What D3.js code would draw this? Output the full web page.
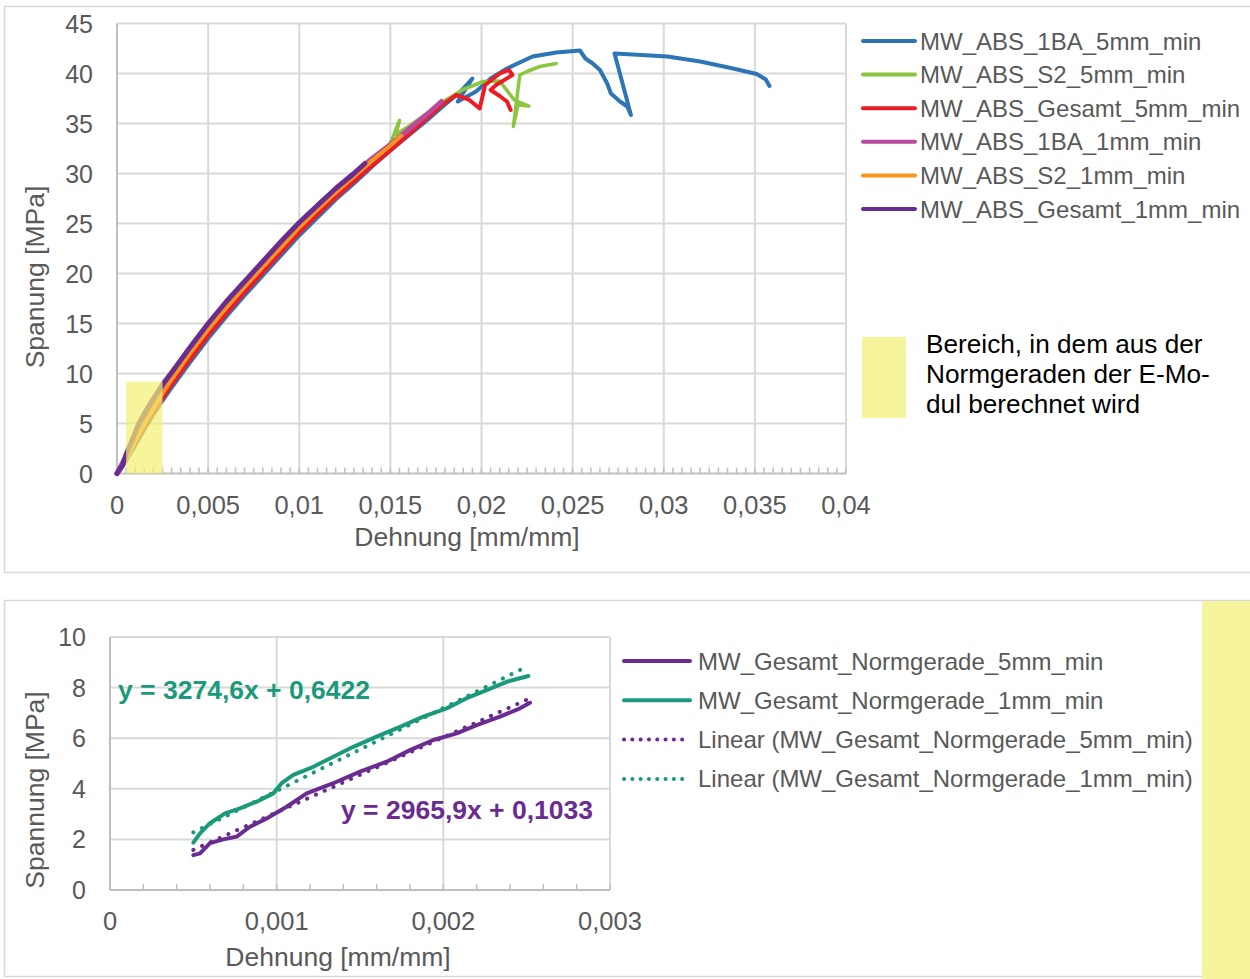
<!DOCTYPE html>
<html>
<head>
<meta charset="utf-8">
<script src="https://cdn.jsdelivr.net/npm/d3@7"></script>
<style>
  body { margin: 0; background: #fff; }
  svg { display: block; }
  text { font-family: "Liberation Sans", Arial, Helvetica, sans-serif; }
</style>
</head>
<body>
<svg id="chart" width="1250" height="979"></svg>
<script>
// ---------- Zugversuch ABS: Spannung-Dehnung (Mittelwerte) ----------
const seriesNames = [
  "MW_ABS_1BA_5mm_min", "MW_ABS_S2_5mm_min", "MW_ABS_Gesamt_5mm_min",
  "MW_ABS_1BA_1mm_min", "MW_ABS_S2_1mm_min", "MW_ABS_Gesamt_1mm_min"
];
const seriesColors = ["#2e75b6", "#8cc63f", "#ed1c24", "#b84b9e", "#f7941d", "#6a2c91"];
const seriesWidths = [4, 3.5, 4, 5, 4, 5];

const strain1BA5 = [0, 0.0004, 0.001, 0.0015, 0.002, 0.0025, 0.003, 0.004, 0.005, 0.006, 0.007, 0.008, 0.009, 0.010, 0.011, 0.012, 0.013, 0.014, 0.015, 0.016, 0.017, 0.018, 0.0188, 0.0195, 0.0187, 0.0197, 0.0205, 0.0214, 0.0228, 0.0241, 0.0254, 0.0257, 0.0261, 0.0265, 0.0269, 0.0271, 0.0276, 0.0280, 0.0282, 0.0273, 0.0283, 0.0302, 0.0320, 0.0338, 0.0351, 0.0356, 0.0358];
const stress1BA5 = [0, 1.0, 2.8, 4.4, 5.9, 7.3, 8.6, 11.1, 13.5, 15.7, 17.8, 19.8, 21.8, 23.8, 25.6, 27.4, 29.0, 30.7, 32.3, 33.8, 35.3, 36.9, 38.1, 39.5, 37.2, 38.2, 39.5, 40.5, 41.7, 42.1, 42.3, 41.5, 41.0, 40.35, 39.0, 38.0, 37.2, 36.7, 35.85, 42.0, 41.9, 41.7, 41.2, 40.5, 39.95, 39.4, 38.75];

const strainS25 = [0, 0.0004, 0.001, 0.0015, 0.002, 0.0025, 0.003, 0.004, 0.005, 0.006, 0.007, 0.008, 0.009, 0.010, 0.011, 0.012, 0.013, 0.014, 0.015, 0.0155, 0.0153, 0.016, 0.017, 0.018, 0.019, 0.0201, 0.0210, 0.0218, 0.0226, 0.0220, 0.02175, 0.0221, 0.0225, 0.0232, 0.0241];
const stressS25 = [0, 1.2, 3.4, 5.1, 6.7, 8.2, 9.6, 12.1, 14.5, 16.7, 18.8, 20.8, 22.8, 24.7, 26.5, 28.2, 29.8, 31.4, 33.0, 35.3, 33.9, 34.7, 36.0, 37.3, 38.4, 39.2, 39.25, 37.35, 36.75, 36.85, 34.7, 39.85, 40.2, 40.7, 41.0];

const strainGes5 = [0, 0.0005, 0.001, 0.0015, 0.002, 0.0025, 0.003, 0.004, 0.005, 0.006, 0.007, 0.008, 0.009, 0.010, 0.011, 0.012, 0.013, 0.014, 0.015, 0.016, 0.017, 0.0178, 0.0186, 0.0193, 0.0199, 0.0202, 0.0210, 0.0215, 0.0217, 0.0208, 0.0205, 0.0210, 0.0214, 0.0216];
const stressGes5 = [0, 1.4, 3.0, 4.6, 6.1, 7.5, 8.9, 11.4, 13.8, 16.0, 18.1, 20.1, 22.1, 24.1, 25.9, 27.6, 29.2, 30.8, 32.3, 33.9, 35.5, 36.8, 37.85, 37.4, 36.5, 38.85, 40.0, 40.35, 39.85, 38.85, 38.35, 37.75, 37.2, 36.35];

const strain1BA1 = [0, 0.0004, 0.001, 0.0015, 0.002, 0.0025, 0.003, 0.004, 0.005, 0.006, 0.007, 0.008, 0.009, 0.010, 0.011, 0.012, 0.013, 0.014, 0.015, 0.016, 0.017, 0.0178];
const stress1BA1 = [0, 1.4, 3.7, 5.4, 7.0, 8.5, 9.9, 12.4, 14.8, 17.0, 19.1, 21.1, 23.1, 25.0, 26.8, 28.4, 30.0, 31.5, 32.9, 34.4, 35.9, 37.2];

const strainS21 = [0, 0.0004, 0.001, 0.0015, 0.002, 0.0025, 0.003, 0.004, 0.005, 0.006, 0.007, 0.008, 0.009, 0.010, 0.011, 0.012, 0.013, 0.014, 0.015, 0.0156];
const stressS21 = [0, 1.1, 3.2, 4.9, 6.5, 8.0, 9.4, 12.0, 14.4, 16.6, 18.7, 20.7, 22.6, 24.6, 26.4, 28.1, 29.7, 31.3, 32.8, 33.8];

const strainGes1 = [0, 0.0003, 0.0005, 0.0008, 0.0012, 0.0016, 0.002, 0.0025, 0.003, 0.004, 0.005, 0.006, 0.007, 0.008, 0.009, 0.010, 0.011, 0.012, 0.013, 0.0136];
const stressGes1 = [0, 0.8, 1.9, 3.2, 5.0, 6.3, 7.5, 8.9, 10.1, 12.6, 15.0, 17.2, 19.2, 21.2, 23.2, 25.1, 26.8, 28.5, 30.0, 31.0];

const seriesStrain = [strain1BA5, strainS25, strainGes5, strain1BA1, strainS21, strainGes1];
const seriesStress = [stress1BA5, stressS25, stressGes5, stress1BA1, stressS21, stressGes1];

// Bereich der Normgeraden (E-Modul)
const modulusRangeStrain = [0.0005, 0.0025];
const modulusRangeStress = [0, 9.2];

const topXTicks = [0, 0.005, 0.01, 0.015, 0.02, 0.025, 0.03, 0.035, 0.04];
const topYTicks = [0, 5, 10, 15, 20, 25, 30, 35, 40, 45];

// ---------- Normgeraden ----------
const normNames = ["MW_Gesamt_Normgerade_5mm_min", "MW_Gesamt_Normgerade_1mm_min",
                   "Linear (MW_Gesamt_Normgerade_5mm_min)", "Linear (MW_Gesamt_Normgerade_1mm_min)"];
const normColors = ["#6a2c91", "#1a9a7a"];

const normStrain5 = [0.0005, 0.00054, 0.0006, 0.00068, 0.00076, 0.00084, 0.00094, 0.00106, 0.00118, 0.00134, 0.0015, 0.00166, 0.0018, 0.00194, 0.00208, 0.0022, 0.00234, 0.00246, 0.00252];
const normStress5 = [1.38, 1.45, 1.85, 2.0, 2.11, 2.5, 2.83, 3.29, 3.82, 4.22, 4.68, 5.07, 5.53, 5.93, 6.19, 6.52, 6.85, 7.18, 7.4];

const normStrain1 = [0.0005, 0.00054, 0.0006, 0.00069, 0.00078, 0.00088, 0.00098, 0.00103, 0.0011, 0.00122, 0.00134, 0.00146, 0.0016, 0.00174, 0.00188, 0.00202, 0.00214, 0.00226, 0.00238, 0.00251];
const normStress1 = [1.87, 2.24, 2.64, 3.03, 3.23, 3.49, 3.82, 4.22, 4.55, 4.87, 5.27, 5.66, 6.06, 6.45, 6.85, 7.18, 7.58, 7.9, 8.23, 8.46];

// Trendlinien y = m·x + b
const trendSlopes = [2965.9, 3274.6];
const trendIntercepts = [0.1033, 0.6422];
const trendLabels = ["y = 2965,9x + 0,1033", "y = 3274,6x + 0,6422"];

const bottomXTicks = [0, 0.001, 0.002, 0.003];
const bottomYTicks = [0, 2, 4, 6, 8, 10];

// ---------- Helpers ----------
const locale = d3.formatLocale({ decimal: ",", thousands: ".", grouping: [3], currency: ["", " €"] });
const fmt = locale.format("~g");

const GRID = "#d9d9d9";
const AXIS = "#bfbfbf";
const TXT = "#595959";
const YELLOW = "#f6f49c";

const svg = d3.select("#chart");

// panel frames
svg.append("rect").attr("x", 4.5).attr("y", 6.5).attr("width", 1260).attr("height", 566)
  .attr("fill", "#fff").attr("stroke", GRID).attr("stroke-width", 1.5);
svg.append("rect").attr("x", 4.5).attr("y", 600.5).attr("width", 1260).attr("height", 376)
  .attr("fill", "#fff").attr("stroke", GRID).attr("stroke-width", 1.5);
svg.append("rect").attr("x", 1202).attr("y", 601).attr("width", 60).attr("height", 378)
  .attr("fill", YELLOW);

// =========================== TOP CHART ===========================
{
  const x = d3.scaleLinear().domain([0, 0.04]).range([117, 846]);
  const y = d3.scaleLinear().domain([0, 45]).range([473.5, 23.5]);
  const g = svg.append("g");

  // gridlines
  g.selectAll(".vg").data(topXTicks.slice(1)).join("line")
    .attr("x1", d => x(d)).attr("x2", d => x(d)).attr("y1", y(0)).attr("y2", y(45))
    .attr("stroke", GRID).attr("stroke-width", 2);
  g.selectAll(".hg").data(topYTicks.slice(1)).join("line")
    .attr("x1", x(0)).attr("x2", x(0.04)).attr("y1", d => y(d)).attr("y2", d => y(d))
    .attr("stroke", GRID).attr("stroke-width", 2);

  // axis lines + minor ticks
  g.append("line").attr("x1", x(0)).attr("x2", x(0)).attr("y1", y(0)).attr("y2", y(45))
    .attr("stroke", AXIS).attr("stroke-width", 2);
  g.append("line").attr("x1", x(0)).attr("x2", x(0.04)).attr("y1", y(0)).attr("y2", y(0))
    .attr("stroke", AXIS).attr("stroke-width", 2);
  const minor = d3.range(0, 0.04 + 1e-9, 0.0005);
  g.selectAll(".mt").data(minor).join("line")
    .attr("x1", d => x(d)).attr("x2", d => x(d)).attr("y1", y(0)).attr("y2", y(0) - 6)
    .attr("stroke", AXIS).attr("stroke-width", 1.5);

  // tick labels
  g.selectAll(".xl").data(topXTicks).join("text")
    .attr("x", d => x(d)).attr("y", 514).attr("text-anchor", "middle")
    .attr("font-size", 25.5).attr("fill", TXT).text(d => fmt(d));
  g.selectAll(".yl").data(topYTicks).join("text")
    .attr("x", 93).attr("y", d => y(d) + 9).attr("text-anchor", "end")
    .attr("font-size", 25).attr("fill", TXT).text(d => fmt(d));

  // axis titles
  g.append("text").attr("x", 467).attr("y", 546).attr("text-anchor", "middle")
    .attr("font-size", 26.5).attr("fill", TXT).text("Dehnung [mm/mm]");
  g.append("text").attr("transform", "translate(44,277) rotate(-90)").attr("text-anchor", "middle")
    .attr("font-size", 26.5).attr("fill", TXT).text("Spanung [MPa]");

  // curves
  const line = d3.line().x(d => x(d[0])).y(d => y(d[1])).curve(d3.curveLinear);
  seriesNames.forEach((name, i) => {
    const pts = seriesStrain[i].map((s, k) => [s, seriesStress[i][k]]);
    g.append("path").datum(pts).attr("d", line)
      .attr("fill", "none").attr("stroke", seriesColors[i]).attr("stroke-width", seriesWidths[i])
      .attr("stroke-linejoin", "round").attr("stroke-linecap", "round");
  });

  // highlighted modulus range (drawn over the curves)
  g.append("rect")
    .attr("x", x(modulusRangeStrain[0])).attr("width", x(modulusRangeStrain[1]) - x(modulusRangeStrain[0]))
    .attr("y", y(modulusRangeStress[1])).attr("height", y(modulusRangeStress[0]) - y(modulusRangeStress[1]))
    .attr("fill", "rgb(243,241,112)").attr("opacity", 0.7);

  // legend
  const lg = g.append("g");
  seriesNames.forEach((name, i) => {
    const cy = 41 + i * 33.6;
    lg.append("line").attr("x1", 863).attr("x2", 915).attr("y1", cy).attr("y2", cy)
      .attr("stroke", seriesColors[i]).attr("stroke-width", 4).attr("stroke-linecap", "round");
    lg.append("text").attr("x", 920).attr("y", cy + 8.5).attr("font-size", 24)
      .attr("fill", TXT).text(name);
  });

  // legend for the yellow range
  lg.append("rect").attr("x", 862).attr("y", 337).attr("width", 44).attr("height", 81).attr("fill", YELLOW);
  ["Bereich, in dem aus der", "Normgeraden der E-Mo-", "dul berechnet wird"].forEach((t, i) => {
    lg.append("text").attr("x", 926).attr("y", 353 + i * 30).attr("font-size", 26.2)
      .attr("fill", "#000").text(t);
  });
}

// ========================== BOTTOM CHART ==========================
{
  const x = d3.scaleLinear().domain([0, 0.003]).range([110, 610]);
  const y = d3.scaleLinear().domain([0, 10]).range([890, 637]);
  const g = svg.append("g");

  g.selectAll(".vg").data(bottomXTicks.slice(1)).join("line")
    .attr("x1", d => x(d)).attr("x2", d => x(d)).attr("y1", y(0)).attr("y2", y(10))
    .attr("stroke", GRID).attr("stroke-width", 2);
  g.selectAll(".hg").data(bottomYTicks.slice(1)).join("line")
    .attr("x1", x(0)).attr("x2", x(0.003)).attr("y1", d => y(d)).attr("y2", d => y(d))
    .attr("stroke", GRID).attr("stroke-width", 2);
  g.append("line").attr("x1", x(0)).attr("x2", x(0)).attr("y1", y(0)).attr("y2", y(10))
    .attr("stroke", AXIS).attr("stroke-width", 2);
  g.append("line").attr("x1", x(0)).attr("x2", x(0.003)).attr("y1", y(0)).attr("y2", y(0))
    .attr("stroke", AXIS).attr("stroke-width", 2);
  const minor = d3.range(0, 0.003 + 1e-9, 0.0002);
  g.selectAll(".mt").data(minor).join("line")
    .attr("x1", d => x(d)).attr("x2", d => x(d)).attr("y1", y(0)).attr("y2", y(0) - 6)
    .attr("stroke", AXIS).attr("stroke-width", 1.5);

  g.selectAll(".xl").data(bottomXTicks).join("text")
    .attr("x", d => x(d)).attr("y", 930).attr("text-anchor", "middle")
    .attr("font-size", 25.5).attr("fill", TXT).text(d => fmt(d));
  g.selectAll(".yl").data(bottomYTicks).join("text")
    .attr("x", 86).attr("y", d => y(d) + 9).attr("text-anchor", "end")
    .attr("font-size", 25).attr("fill", TXT).text(d => fmt(d));

  g.append("text").attr("x", 338).attr("y", 966).attr("text-anchor", "middle")
    .attr("font-size", 26.5).attr("fill", TXT).text("Dehnung [mm/mm]");
  g.append("text").attr("transform", "translate(44,790) rotate(-90)").attr("text-anchor", "middle")
    .attr("font-size", 26.5).attr("fill", TXT).text("Spannung [MPa]");

  const line = d3.line().x(d => x(d[0])).y(d => y(d[1]));
  const normStrain = [normStrain5, normStrain1];
  const normStress = [normStress5, normStress1];

  // measured curves
  [0, 1].forEach(i => {
    const pts = normStrain[i].map((s, k) => [s, normStress[i][k]]);
    g.append("path").datum(pts).attr("d", line).attr("fill", "none")
      .attr("stroke", normColors[i]).attr("stroke-width", 4)
      .attr("stroke-linejoin", "round").attr("stroke-linecap", "round");
  });
  // linear trendlines
  [0, 1].forEach(i => {
    const [x0, x1] = d3.extent(normStrain[i]);
    const pts = [x0, x1].map(s => [s, trendSlopes[i] * s + trendIntercepts[i]]);
    g.append("path").datum(pts).attr("d", line).attr("fill", "none")
      .attr("stroke", normColors[i]).attr("stroke-width", 4)
      .attr("stroke-dasharray", "0.1 9.5").attr("stroke-linecap", "round");
  });

  // equations
  g.append("text").attr("x", 118).attr("y", 699).attr("font-size", 26.5).attr("font-weight", "bold")
    .attr("fill", normColors[1]).text(trendLabels[1]);
  g.append("text").attr("x", 341).attr("y", 819).attr("font-size", 26.5).attr("font-weight", "bold")
    .attr("fill", normColors[0]).text(trendLabels[0]);

  // legend
  normNames.forEach((name, i) => {
    const cy = 661 + i * 39.3;
    const c = normColors[i % 2];
    const ln = g.append("line").attr("x1", 624).attr("x2", 690).attr("y1", cy).attr("y2", cy)
      .attr("stroke", c).attr("stroke-width", 4).attr("stroke-linecap", "round");
    if (i >= 2) ln.attr("stroke-dasharray", "0.1 8.2");
    g.append("text").attr("x", 698).attr("y", cy + 8.5).attr("font-size", 24)
      .attr("fill", TXT).text(name);
  });
}
</script>
</body>
</html>
